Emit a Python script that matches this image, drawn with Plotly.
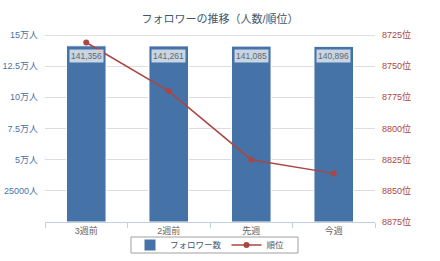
import plotly.graph_objects as go

categories = ["3週前", "2週前", "先週", "今週"]
followers = [141356, 141261, 141085, 140896]
ranks = [8731, 8770, 8825, 8836]
left_ticks = [25000, 50000, 75000, 100000, 125000, 150000]
left_labels = ["25000人", "5万人", "7.5万人", "10万人", "12.5万人", "15万人"]
right_ticks = [8725, 8750, 8775, 8800, 8825, 8850, 8875]
right_labels = [f"{v}位" for v in right_ticks]

FONT = "Liberation Sans, Noto Sans CJK JP, sans-serif"
BLUE = "#4572A7"
RED = "#AA4643"

fig = go.Figure()
fig.add_trace(go.Bar(
    x=categories, y=followers, name="フォロワー数",
    marker=dict(color=BLUE, line=dict(color="#ffffff", width=1)),
    yaxis="y", hoverinfo="skip",
))
fig.add_trace(go.Scatter(
    x=categories, y=ranks, name="順位", mode="lines+markers",
    line=dict(color=RED, width=1.5), marker=dict(color=RED, size=6),
    yaxis="y2",
))

for c, v in zip(categories, followers):
    fig.add_annotation(
        x=c, y=v, xref="x", yref="y", text=f"{v:,}", showarrow=False,
        yanchor="top", yshift=-3, bgcolor="rgba(255,255,255,0.7)",
        font=dict(family=FONT, size=8.5, color="#666666"), borderpad=1,
    )

fig.update_layout(
    width=440, height=261,
    margin=dict(l=45, r=65, t=35, b=39, autoexpand=False),
    paper_bgcolor="white", plot_bgcolor="white",
    font=dict(family=FONT, size=9, color="#666666"),
    title=dict(text="フォロワーの推移（人数/順位）", x=0.5, xanchor="center",
               y=1 - 19 / 261, yanchor="middle",
               font=dict(family=FONT, size=11, color="#3E576F")),
    bargap=0.52,
    showlegend=True,
    legend=dict(orientation="h", x=0.5, xanchor="center",
                yref="container", y=1 - 245 / 261, yanchor="middle",
                borderwidth=0, bgcolor="rgba(0,0,0,0)",
                font=dict(family=FONT, size=8.5, color="#3E576F"),
                itemwidth=30, tracegroupgap=0),
    xaxis=dict(showgrid=False, showline=True, linecolor="#C0D0E0", linewidth=1,
               ticks="outside", ticklen=5, tickcolor="#C0D0E0",
               tickson="boundaries", tickfont=dict(size=9, color="#666666")),
    yaxis=dict(range=[0, 150000], tickvals=left_ticks, ticktext=left_labels,
               showgrid=True, gridcolor="#DDDDDD", gridwidth=1, zeroline=False,
               tickfont=dict(size=9, color="#4572A7"), ticks="", ticklabelstandoff=6),
    yaxis2=dict(range=[8875, 8725], tickvals=right_ticks, ticktext=right_labels,
                overlaying="y", side="right", showgrid=False, zeroline=False,
                tickfont=dict(size=9, color=RED), ticklabelstandoff=6),
)
fig.add_shape(type="line", xref="paper", yref="y", x0=0, x1=1, y0=150000, y1=150000,
              line=dict(color="#C0C0C0", width=1), layer="below")
# legend frame
fig.add_shape(type="rect", xref="paper", yref="paper",
              x0=(131 - 45) / 330, x1=(298 - 45) / 330,
              y0=(222 - 237) / 187, y1=(222 - 253) / 187,
              line=dict(color="#A0A0A0", width=1), fillcolor="rgba(0,0,0,0)",
              layer="below")

fig.write_html("out.html")
